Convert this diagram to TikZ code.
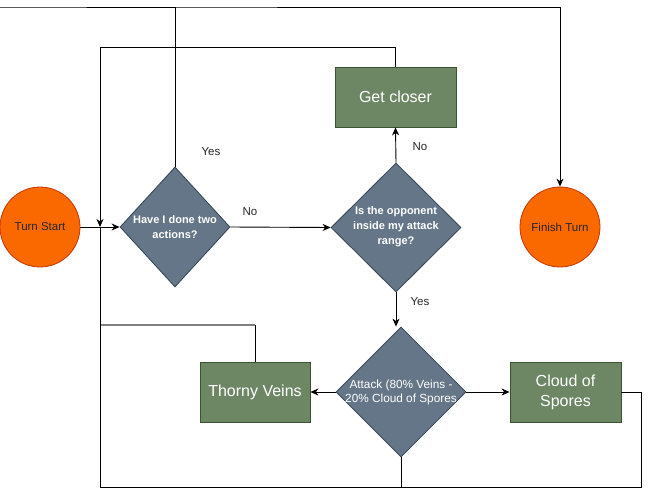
\documentclass[tikz,border=0pt]{standalone}
\usepackage{fontspec}
\setmainfont{Liberation Sans}
\usetikzlibrary{shapes.geometric,arrows.meta}
\definecolor{orfill}{HTML}{FA6800}
\definecolor{orline}{HTML}{C73500}
\definecolor{slfill}{HTML}{647687}
\definecolor{slline}{HTML}{314354}
\definecolor{grfill}{HTML}{6D8764}
\definecolor{grline}{HTML}{3A5431}
\begin{document}
\begin{tikzpicture}[x=1pt,y=-1pt,
  startend/.style={circle,draw=orline,fill=orfill,line width=0.8pt,minimum size=80pt,inner sep=0pt,font=\fontsize{11.5}{14}\selectfont,text=black!85},
  decision/.style={diamond,draw=slline,fill=slfill,line width=0.8pt,inner sep=0pt},
  dtext/.style={text=white,align=center,font=\bfseries\fontsize{11}{15}\selectfont},
  action/.style={rectangle,draw=grline,fill=grfill,line width=0.8pt,minimum width=121pt,minimum height=60pt,text=white,align=center,font=\fontsize{16}{20}\selectfont},
  arr/.style={line width=0.9pt,-{Stealth[length=8pt,width=7pt,inset=2.5pt]}},
  ln/.style={line width=0.9pt},
  lbl/.style={font=\fontsize{11.5}{14}\selectfont,text=black!85}
]
\useasboundingbox[fill=white] (0,0) rectangle (649,496);

% nodes
\node[startend] (ts) at (40,227) {Turn Start};
\node[startend] (fin) at (560,227) {Finish Turn};

\node[decision,minimum width=110pt,minimum height=120pt] (d1) at (175,227) {};
\node[dtext] (d1t) at (175,227) {Have I done two\\actions?};

\node[decision,minimum width=130pt,minimum height=129pt] (d2) at (396,227.5) {};
\node[dtext] (d2t) at (396,227) {Is the opponent\\inside my attack\\range?};

\node[action] (gc) at (395.5,97) {Get closer};

\node[decision,minimum width=130pt,minimum height=130pt] (atk) at (401,392) {};
\node[text=white,align=center,font=\fontsize{11.8}{14}\selectfont] (atkt) at (401,392) {Attack (80\% Veins -\\20\% Cloud of Spores};

\node[action,minimum width=110pt] (tv) at (255,392) {Thorny Veins};
\node[action,minimum width=111pt] (cs) at (565.5,392) {Cloud of\\Spores};

% helper coordinates
\coordinate (j) at (100,227);
\coordinate (c1) at (100,47);
\coordinate (ytop) at (0,7);
\coordinate (c2) at (100,325);
\coordinate (c3) at (100,487);
\coordinate (c4) at (641,487);

% connectors
\draw[arr] (ts) -- (d1);
\draw[arr] (d1.east) -- (d2.west);
\node[lbl] (lno1) at (250,212) {No};
\draw[arr] (d2.north) -- (gc.south);
\node[lbl] (lno2) at (420,147) {No};
\draw[arr] (gc.north) |- (c1) -- (j);
\draw[arr] (d1.north) |- (ytop) -| (fin.north);
\node[lbl] (lyes1) at (211,152) {Yes};
\draw[arr] (d2.south) -- (d2.south |- atk.north);
\node[lbl] (lyes2) at (420,302) {Yes};
\draw[arr] (atk.west) -- (tv.east);
\draw[arr] (atk.east) -- (cs.west);
\draw[ln] (tv.north) -- (tv.north |- c2);
\draw[line width=1.6pt,color=gray] (tv.north |- c2) -- (c2);
\draw[ln] (atk.south) |- (c3) -- (j);
\draw[ln] (cs.east) -| (c4) -- (atk.south |- c4);
\end{tikzpicture}
\end{document}
